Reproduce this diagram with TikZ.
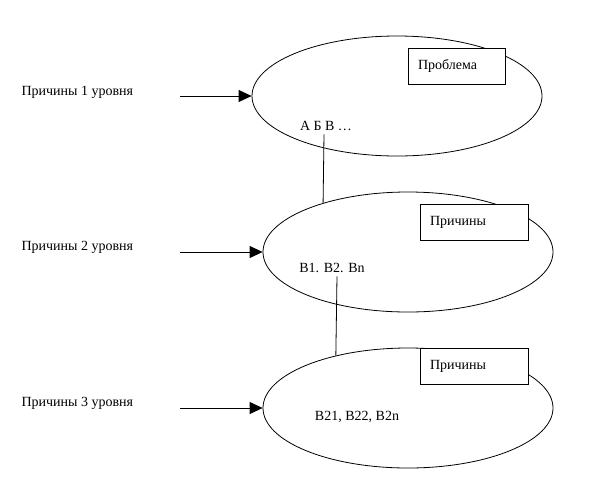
\documentclass[tikz,border=0pt]{standalone}
\usepackage{fontspec}
\setmainfont{Liberation Serif}
\usetikzlibrary{shapes.geometric, arrows.meta, positioning}

\begin{document}
\begin{tikzpicture}[x=1pt, y=-1pt, font=\fontsize{14}{17}\selectfont,
  level/.style={ellipse, draw, line width=0.8pt, minimum width=290pt, minimum height=120pt, inner sep=0pt},
  causebox/.style={draw, fill=white, line width=0.8pt, minimum height=36pt, inner xsep=10pt, align=left},
  feed/.style={line width=0.8pt, -{Triangle[length=13pt,width=12pt]}}]
  \useasboundingbox (0,0) rectangle (615,483);

  % Levels
  \node[level] (e1) at (397,96) {};
  \node[level] (e2) at (408,252) {};
  \node[level] (e3) at (408,408) {};

  % Boxes
  \node[causebox, text width=77pt] (prob) at (456.5,66) {Проблема};
  \node[causebox, text width=88pt] (cause2) at (474,222) {Причины};
  \node[causebox, text width=88pt] (cause3) at (474,366) {Причины};

  % Contents
  \node (abc) at (326,126) {А Б В …};
  \node (bn) at (332,268) {В1. В2. Вn};
  \node (b2n) at (357,417) {В21, В22, В2n};
  \draw[line width=0.8pt] ([xshift=-2pt]abc.south) -- (e2.150);
  \draw[line width=0.8pt] ([xshift=5pt]bn.south) -- (e3.144);

  % Labels
  \node[right] (lab1) at (18,92) {Причины 1 уровня};
  \node[right] (lab2) at (18,247) {Причины 2 уровня};
  \node[right] (lab3) at (18,403) {Причины 3 уровня};
  \coordinate (tail) at (180,0);
  \foreach \i in {1,2,3} {
    \draw[feed] (e\i.west -| tail) -- (e\i.west);
  }
\end{tikzpicture}
\end{document}
